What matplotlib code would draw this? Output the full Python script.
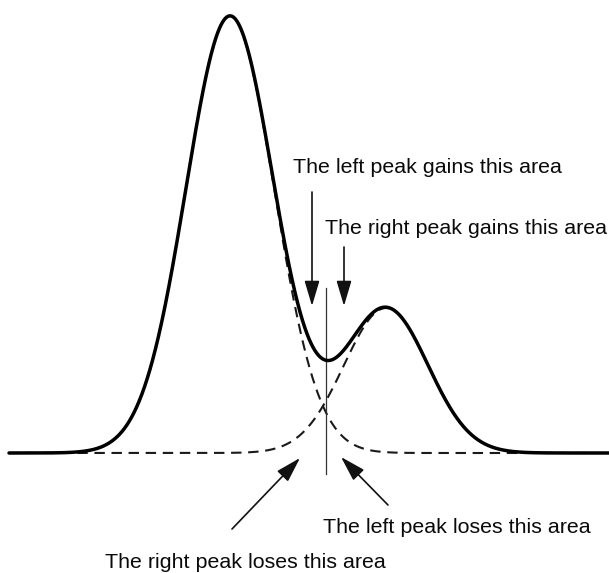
import numpy as np
import matplotlib
matplotlib.use("Agg")
import matplotlib.pyplot as plt
from matplotlib.patches import FancyArrowPatch

# Two overlapping chromatographic peaks (Gaussian components)
peak_names = ["left", "right"]
peak_centers = [230.0, 386.0]
peak_heights = [437.0, 145.0]
peak_widths = [44.0, 42.0]

# Signal axis range and the perpendicular drop line at the valley
x_start, x_end = 9.0, 609.0
drop_x = 325.5
drop_y = [165.0, -21.0]

# Annotations: text, text anchor (x, baseline), arrow tail, arrow tip
labels = [
    "The left peak gains this area",
    "The right peak gains this area",
    "The left peak loses this area",
    "The right peak loses this area",
]
label_pos = [(293, 280), (325, 219), (323, -80), (105, -115)]
arrow_tail = [(312, 261), (344, 206), (388, -52), (232, -76)]
arrow_tip = [(312, 147), (344, 147), (341, -4), (300, -5)]

fig = plt.figure(figsize=(6.09, 5.73), dpi=100)
ax = fig.add_axes([0, 0, 1, 1])
ax.set_xlim(0, 609)
ax.set_ylim(-120, 453)
ax.axis("off")

x = np.linspace(x_start, x_end, 2000)
components = [
    h * np.exp(-0.5 * ((x - c) / w) ** 2)
    for c, h, w in zip(peak_centers, peak_heights, peak_widths)
]

for comp in components:
    ax.plot(x, comp, color="#1a1a1a", lw=1.5, ls=(0, (5.0, 3.2)),
            solid_capstyle="butt", zorder=2)

ax.plot(x, components[0] + components[1], color="black", lw=2.5,
        solid_capstyle="round", solid_joinstyle="round", zorder=3)

ax.plot([drop_x, drop_x], drop_y, color="#333333", lw=0.9, zorder=2)

for text, (tx, ty) in zip(labels, label_pos):
    ax.text(tx, ty, text, fontsize=15.4, family="Liberation Sans",
            color="#0a0a0a", ha="left", va="baseline", zorder=4)

for tail, tip in zip(arrow_tail, arrow_tip):
    ax.add_patch(FancyArrowPatch(
        tail, tip, arrowstyle="-|>,head_length=15.5,head_width=4.6",
        mutation_scale=1, shrinkA=0, shrinkB=0, lw=1.2,
        color="#111111", zorder=4))

fig.savefig("out.png", dpi=100, facecolor="white")
